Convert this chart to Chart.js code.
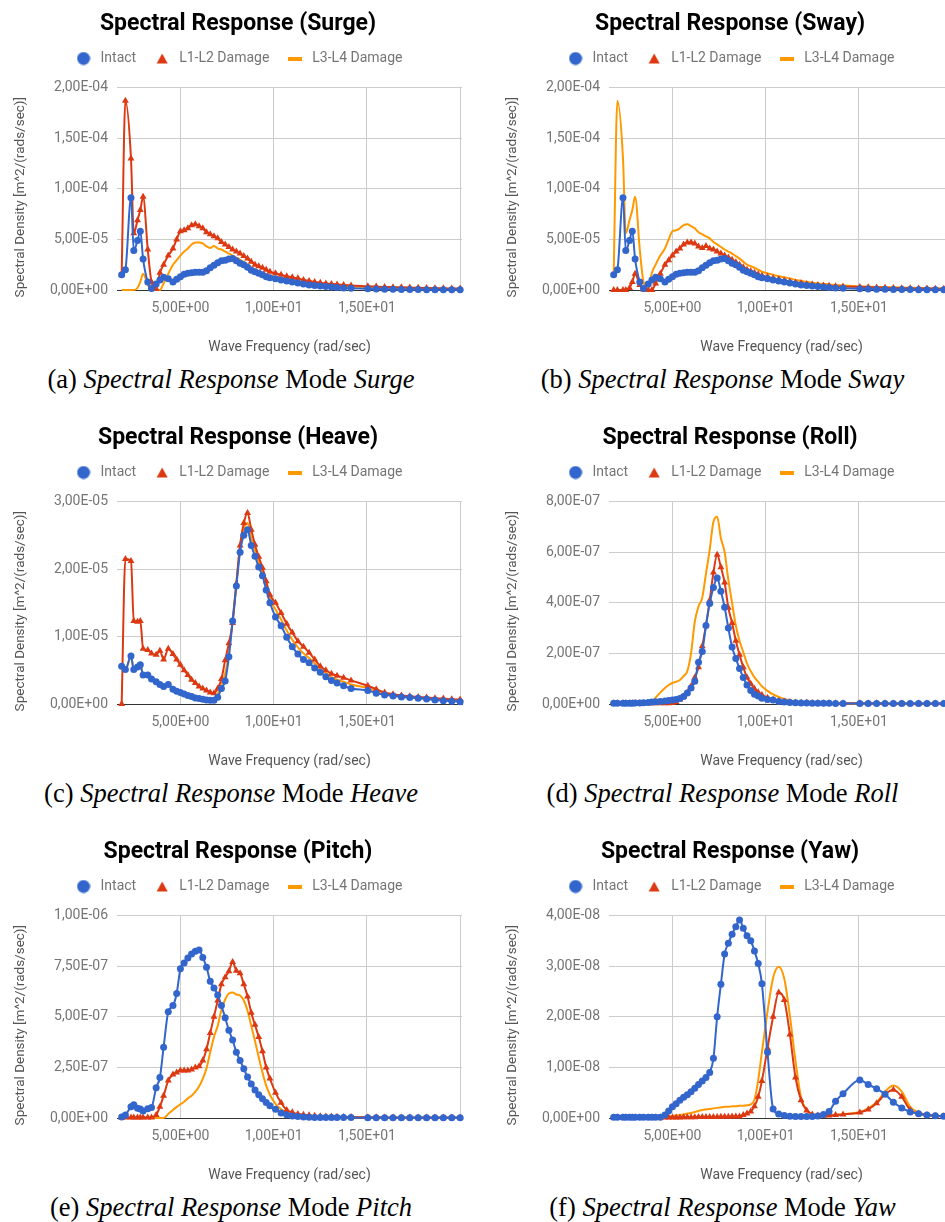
<!DOCTYPE html>
<html>
<head>
<meta charset="utf-8">
<script src="https://cdn.jsdelivr.net/npm/chart.js@4/dist/chart.umd.min.js"></script>
<style>
  html, body { margin: 0; padding: 0; background: #fff; }
  body { width: 945px; height: 1222px; position: relative; overflow: hidden; }
  canvas { position: absolute; }
  .cap { position: absolute; font-family: "Liberation Serif", "Times New Roman", serif; font-size: 26.5px;
         line-height: 32px; text-align: center; color: #000; white-space: nowrap; }
</style>
</head>
<body>
<canvas id="surge" width="476" height="365" style="left:0;top:-4px"></canvas>
<canvas id="sway" width="476" height="365" style="left:492px;top:-4px"></canvas>
<canvas id="heave" width="476" height="365" style="left:0;top:410px"></canvas>
<canvas id="roll" width="476" height="365" style="left:492px;top:410px"></canvas>
<canvas id="pitch" width="476" height="365" style="left:0;top:824px"></canvas>
<canvas id="yaw" width="476" height="365" style="left:492px;top:824px"></canvas>

<div class="cap" style="left:0;width:462px;top:363px">(a) <i>Spectral Response</i> Mode <i>Surge</i></div>
<div class="cap" style="left:491px;width:463px;top:363px">(b) <i>Spectral Response</i> Mode <i>Sway</i></div>
<div class="cap" style="left:0;width:462px;top:777px">(c) <i>Spectral Response</i> Mode <i>Heave</i></div>
<div class="cap" style="left:491px;width:463px;top:777px">(d) <i>Spectral Response</i> Mode <i>Roll</i></div>
<div class="cap" style="left:0;width:462px;top:1191px">(e) <i>Spectral Response</i> Mode <i>Pitch</i></div>
<div class="cap" style="left:491px;width:463px;top:1191px">(f) <i>Spectral Response</i> Mode <i>Yaw</i></div>

<script>
// wave frequency (rad/sec), shared by all six plots
const freq = [1.85, 2.05, 2.35, 2.5, 2.7, 2.85, 3.0, 3.25, 3.45, 3.7, 3.9, 4.1, 4.35, 4.6, 4.8,
  5.0, 5.2, 5.4, 5.6, 5.8, 6.0, 6.2, 6.4, 6.6, 6.8, 7.0, 7.2, 7.4, 7.6, 7.8, 8.0, 8.2, 8.4, 8.6, 8.8, 9.0, 9.2, 9.4, 9.6, 9.8,
  10.1, 10.4, 10.7, 11.0, 11.3, 11.6, 11.9, 12.2, 12.5, 12.8, 13.1, 13.4, 13.75, 14.15,
  15.05, 15.5, 15.95, 16.4, 16.85, 17.3, 17.75, 18.2, 18.65, 19.1, 19.55, 20.0];

// Surge, values x 1e-5
const surgeIntact = [1.5, 2.0, 9.1, 3.9, 4.9, 5.8, 3.05, 0.8, 0.15, 0.6, 1.0, 1.25, 1.1, 0.8, 1.05,
  1.3, 1.55, 1.65, 1.7, 1.75, 1.75, 1.75, 1.9, 2.2, 2.45, 2.7, 2.9, 2.95, 3.05, 3.1, 2.9, 2.65, 2.5, 2.25, 1.95, 1.8, 1.65, 1.5, 1.3, 1.2,
  1.1, 1.0, 0.9, 0.8, 0.7, 0.6, 0.5, 0.45, 0.4, 0.35, 0.3, 0.25, 0.2, 0.17,
  0.12, 0.1, 0.08, 0.07, 0.06, 0.05, 0.04, 0.035, 0.03, 0.025, 0.02, 0.02];
const surgeL12 = [1.5, 18.7, 13.0, 5.6, 6.9, 7.9, 9.2, 4.0, 0.8, 0.1, 1.7, 2.5, 3.4, 4.1, 5.0,
  5.8, 5.9, 6.1, 6.4, 6.5, 6.3, 6.1, 5.7, 5.5, 5.3, 5.1, 4.75, 4.5, 4.25, 4.0, 3.8, 3.6, 3.35, 3.1, 2.8, 2.5, 2.35, 2.2, 2.0, 1.8,
  1.65, 1.5, 1.35, 1.25, 1.15, 1.0, 0.9, 0.8, 0.72, 0.65, 0.6, 0.55, 0.5, 0.45,
  0.38, 0.34, 0.3, 0.28, 0.26, 0.24, 0.22, 0.2, 0.18, 0.17, 0.15, 0.14];
const surgeL34 = [0, 0, 0, 0, 0.2, 0.8, 1.6, 0.5, 0.05, 0, 0, 0.65, 1.6, 2.5, 2.95,
  3.4, 3.8, 4.1, 4.5, 4.7, 4.7, 4.6, 4.3, 4.15, 4.35, 4.1, 4.0, 3.8, 3.6, 3.4, 3.2, 3.0, 2.75, 2.5, 2.25, 2.0, 1.85, 1.7, 1.55, 1.4,
  1.3, 1.15, 1.05, 0.95, 0.85, 0.75, 0.68, 0.6, 0.55, 0.5, 0.45, 0.42, 0.38, 0.35,
  0.3, 0.27, 0.25, 0.22, 0.2, 0.18, 0.17, 0.15, 0.14, 0.13, 0.12, 0.11];

// Sway reads the same as surge with the two damage cases swapped
const swayIntact = surgeIntact;
const swayL12 = surgeL34;
const swayL34 = surgeL12;

// Heave, values x 1e-6
const heaveIntact = [5.6, 5.1, 7.1, 5.1, 5.5, 5.8, 4.3, 4.3, 3.7, 3.3, 2.9, 2.6, 2.9, 2.2, 1.9,
  1.7, 1.5, 1.25, 1.1, 0.9, 0.8, 0.7, 0.6, 0.55, 0.55, 1.0, 2.3, 3.4, 7.0, 12.3, 17.5, 22.5, 25.0, 25.8, 23.5, 21.9, 20.3, 19.0, 16.9, 15.0,
  12.9, 11.6, 9.9, 8.5, 7.4, 6.6, 6.1, 5.35, 4.7, 4.05, 3.5, 3.1, 2.7, 2.3,
  2.0, 1.6, 1.35, 1.2, 1.05, 0.95, 0.85, 0.75, 0.6, 0.5, 0.4, 0.35];
const heaveL12 = [0, 21.5, 21.2, 12.3, 12.2, 12.3, 8.2, 8.0, 7.5, 7.3, 7.9, 6.6, 8.2, 7.4, 6.6,
  5.8, 5.0, 4.3, 3.6, 3.1, 2.6, 2.3, 2.0, 1.7, 1.6, 2.3, 3.7, 6.5, 9.0, 12.0, 17.8, 23.5, 26.8, 28.3, 25.8, 23.6, 21.8, 20.2, 18.2, 16.2,
  15.0, 13.5, 11.9, 10.6, 9.3, 8.5, 7.6, 6.6, 5.6, 5.0, 4.5, 4.2, 3.9, 3.5,
  2.7, 2.2, 1.7, 1.45, 1.25, 1.15, 1.05, 0.95, 0.85, 0.8, 0.7, 0.65];
const heaveL34 = [5.5, 5.0, 7.0, 5.2, 5.5, 5.7, 4.4, 4.3, 3.8, 3.4, 3.0, 2.7, 2.9, 2.3, 2.0,
  1.8, 1.55, 1.3, 1.15, 0.95, 0.85, 0.75, 0.65, 0.6, 0.8, 1.5, 2.8, 4.5, 7.5, 12.5, 18.0, 23.5, 26.0, 26.8, 24.5, 22.8, 21.0, 19.5, 17.6, 15.6,
  14.0, 12.5, 10.9, 9.5, 8.4, 7.5, 6.8, 6.0, 5.2, 4.6, 4.0, 3.6, 3.3, 2.9,
  2.35, 1.9, 1.5, 1.3, 1.15, 1.05, 0.95, 0.85, 0.75, 0.68, 0.6, 0.55];

// Roll, values x 1e-8
const rollIntact = [0.3, 0.3, 0.3, 0.3, 0.3, 0.3, 0.4, 0.4, 0.5, 0.6, 0.8, 0.9, 1.0, 1.2, 1.4,
  1.6, 1.8, 2.2, 3.0, 4.3, 6.3, 9.0, 16.5, 20.7, 31.0, 39.7, 46.0, 49.8, 44.5, 38.2, 30.0, 22.5, 18.0, 14.0, 10.5, 7.5, 5.3, 3.9, 3.2, 2.3,
  1.8, 1.6, 1.0, 0.8, 0.6, 0.5, 0.4, 0.35, 0.3, 0.3, 0.25, 0.25, 0.2, 0.2,
  0.2, 0.2, 0.2, 0.2, 0.2, 0.2, 0.2, 0.2, 0.15, 0.15, 0.15, 0.15];
const rollL12 = [0.3, 0.3, 0.3, 0.3, 0.3, 0.3, 0.3, 0.3, 0.3, 0.3, 0.3, 0.3, 0.3, 0.3, 0.3,
  0.4, 0.8, 1.8, 3.0, 4.5, 7.0, 10.5, 14.5, 22.8, 31.0, 41.0, 52.0, 59.0, 54.0, 48.0, 38.0, 32.0, 25.0, 19.5, 14.5, 10.5, 8.0, 6.0, 4.6, 3.6,
  2.5, 1.8, 1.3, 1.0, 0.8, 0.6, 0.5, 0.45, 0.4, 0.35, 0.3, 0.3, 0.3, 0.3,
  0.25, 0.25, 0.25, 0.25, 0.2, 0.2, 0.2, 0.2, 0.2, 0.2, 0.2, 0.2];
const rollL34 = [0, 0, 0, 0, 0, 0, 0, 0, 0, 0, 0.3, 2.5, 4.5, 6.3, 7.5,
  8.3, 8.8, 9.5, 11.0, 13.0, 20.0, 32.5, 38.5, 42.0, 51.5, 61.0, 72.0, 74.0, 65.5, 60.0, 49.0, 40.0, 31.0, 25.0, 20.5, 16.0, 13.0, 10.5, 8.8, 7.0,
  5.2, 3.8, 2.8, 2.0, 1.5, 1.0, 0.7, 0.5, 0.35, 0.25, 0.2, 0.2, 0.15, 0.15,
  0.1, 0.1, 0.1, 0.1, 0.1, 0.1, 0.1, 0.1, 0.1, 0.1, 0.1, 0.1];

// Pitch, values x 1e-8
const pitchIntact = [0.5, 1.5, 5.5, 6.5, 4.8, 4.5, 3.5, 4.6, 5.2, 15.0, 20.0, 35.0, 52.5, 55.5, 61.5,
  73.7, 76.5, 79.0, 81.0, 82.3, 83.0, 79.3, 74.5, 67.5, 64.2, 60.8, 55.5, 49.5, 43.3, 38.5, 32.5, 28.4, 24.3, 20.2, 16.8, 13.8, 11.5, 9.5, 7.6, 6.0,
  4.3, 2.5, 1.6, 1.0, 0.7, 0.5, 0.4, 0.3, 0.25, 0.2, 0.2, 0.2, 0.2, 0.2,
  0.15, 0.15, 0.15, 0.15, 0.1, 0.1, 0.1, 0.1, 0.1, 0.1, 0.1, 0.1];
const pitchL12 = [0.3, 0.3, 0.3, 0.3, 0.3, 0.3, 0.3, 0.3, 0.3, 1.5, 5.5, 11.0, 18.5, 21.5, 22.5,
  23.5, 23.5, 23.5, 24.0, 25.0, 25.5, 28.4, 34.0, 42.0, 50.0, 58.0, 66.0, 69.5, 72.5, 77.0, 72.7, 71.5, 66.0, 60.0, 52.0, 46.0, 40.0, 33.0, 25.0, 19.5,
  12.5, 7.5, 4.0, 2.8, 2.0, 1.6, 1.3, 1.1, 0.9, 0.8, 0.7, 0.6, 0.5, 0.45,
  0.4, 0.35, 0.3, 0.3, 0.3, 0.25, 0.25, 0.2, 0.2, 0.2, 0.2, 0.2];
const pitchL34 = [0, 0, 0, 0, 0, 0, 0, 0, 0, 0, 0, 0, 2.0, 4.0, 5.5,
  6.8, 8.0, 9.7, 11.0, 13.0, 15.5, 19.5, 24.5, 32.5, 40.0, 45.5, 53.5, 58.5, 61.5, 62.0, 61.0, 60.5, 58.0, 53.0, 45.5, 38.0, 30.0, 22.5, 16.0, 11.5,
  7.0, 4.3, 2.5, 1.5, 1.0, 0.7, 0.5, 0.4, 0.3, 0.3, 0.25, 0.25, 0.2, 0.2,
  0.2, 0.2, 0.15, 0.15, 0.15, 0.1, 0.1, 0.1, 0.1, 0.1, 0.1, 0.1];

// Yaw, values x 1e-9
const yawIntact = [0.15, 0.15, 0.15, 0.15, 0.15, 0.15, 0.15, 0.15, 0.15, 0.15, 0.15, 0.15, 0.15, 0.6, 1.4,
  2.2, 2.8, 3.5, 4.1, 4.6, 5.2, 5.9, 6.6, 7.3, 8.0, 9.0, 11.8, 20.0, 26.4, 32.4, 34.5, 36.3, 37.8, 39.1, 37.5, 36.0, 35.0, 33.0, 30.5, 26.5,
  13.0, 1.8, 0.8, 0.5, 0.35, 0.3, 0.3, 0.3, 0.3, 0.4, 0.7, 1.3, 3.3, 4.8,
  7.5, 6.6, 5.8, 4.7, 3.1, 2.0, 1.2, 0.85, 0.6, 0.45, 0.35, 0.3];
const yawL12 = [0.1, 0.1, 0.1, 0.1, 0.1, 0.1, 0.1, 0.1, 0.1, 0.1, 0.1, 0.1, 0.1, 0.1, 0.1,
  0.1, 0.1, 0.1, 0.15, 0.15, 0.15, 0.15, 0.2, 0.2, 0.2, 0.2, 0.2, 0.2, 0.25, 0.25, 0.25, 0.3, 0.3, 0.3, 0.6, 0.9, 1.3, 2.3, 4.2, 7.3,
  13.8, 20.0, 24.8, 23.3, 16.5, 8.0, 3.5, 1.5, 0.7, 0.5, 0.5, 0.5, 0.6, 0.7,
  1.1, 1.7, 2.9, 4.7, 5.6, 4.2, 1.6, 0.9, 0.6, 0.4, 0.35, 0.3];
const yawL34 = [0.1, 0.1, 0.1, 0.1, 0.1, 0.1, 0.1, 0.1, 0.1, 0.1, 0.1, 0.1, 0.1, 0.2, 0.3,
  0.4, 0.5, 0.6, 0.7, 0.9, 1.0, 1.2, 1.4, 1.6, 1.7, 1.8, 1.9, 2.0, 2.1, 2.2, 2.2, 2.3, 2.3, 2.4, 2.4, 2.5, 2.7, 3.6, 7.5, 13.0,
  21.0, 27.7, 29.9, 27.5, 20.2, 11.3, 4.0, 1.6, 0.8, 0.65, 0.6, 0.6, 0.65, 0.75,
  1.2, 1.9, 3.1, 5.2, 6.4, 5.2, 2.2, 1.1, 0.7, 0.5, 0.4, 0.35];

const seriesNames = ['Intact', 'L1-L2 Damage', 'L3-L4 Damage'];
const seriesColors = ['#3366CC', '#DC3912', '#FF9900'];
const xTickValues = [5, 10, 15, 20];
const xTickLabels = ['5,00E+00', '1,00E+01', '1,50E+01', ''];

Chart.defaults.font.family = 'Roboto';

// 2.5e-5 -> "2,50E-05"
function sci(v) {
  if (Math.abs(v) < 1e-20) return '0,00E+00';
  const parts = v.toExponential(2).split('e');
  const e = parseInt(parts[1], 10);
  return parts[0].replace('.', ',') + 'E' + (e < 0 ? '-' : '+') + String(Math.abs(e)).padStart(2, '0');
}

function legendIcon(kind, color) {
  const c = document.createElement('canvas');
  const g = c.getContext('2d');
  if (kind === 'circle') {
    c.width = 14; c.height = 14;
    g.fillStyle = color;
    g.beginPath(); g.arc(7, 7, 6.5, 0, Math.PI * 2); g.fill();
  } else if (kind === 'triangle') {
    c.width = 12; c.height = 11;
    g.fillStyle = color;
    g.beginPath(); g.moveTo(6, 0.5); g.lineTo(11.5, 10.5); g.lineTo(0.5, 10.5); g.closePath(); g.fill();
  } else {
    c.width = 14; c.height = 4;
    g.fillStyle = color;
    g.fillRect(0, 0, 14, 4);
  }
  return c;
}
const legendIcons = [legendIcon('circle', seriesColors[0]), legendIcon('triangle', seriesColors[1]), legendIcon('dash', seriesColors[2])];

function makeChart(id, title, series, unit, yMax, yStep) {
  new Chart(document.getElementById(id), {
    type: 'line',
    data: {
      datasets: series.map((vals, i) => ({
        label: seriesNames[i],
        data: freq.map((f, k) => ({ x: f, y: vals[k] })),
        borderColor: seriesColors[i],
        backgroundColor: seriesColors[i],
        borderWidth: 2,
        tension: 0.4,
        cubicInterpolationMode: 'monotone',
        pointStyle: i === 0 ? 'circle' : 'triangle',
        pointRadius: i === 2 ? 0 : (i === 0 ? 3.5 : 4),
        pointBorderWidth: 0,
        clip: 6
      }))
    },
    options: {
      responsive: false,
      animation: false,
      events: [],
      plugins: {
        title: {
          display: true, text: title, color: '#000',
          font: { size: 23, weight: 'bold', lineHeight: 1.0 },
          padding: { top: 16.5, bottom: 0 }
        },
        // empty spacer between legend and plot
        subtitle: { display: true, text: '', weight: 100, font: { size: 1, lineHeight: 1 }, padding: { top: 0, bottom: 11 } },
        legend: {
          labels: {
            usePointStyle: true, pointStyleWidth: 20, padding: 16,
            font: { size: 14 },
            generateLabels: chart => chart.data.datasets.map((ds, i) => ({
              text: ds.label, pointStyle: legendIcons[i], fillStyle: ds.borderColor,
              strokeStyle: ds.borderColor, lineWidth: 0, fontColor: '#757575', hidden: false, datasetIndex: i
            }))
          }
        },
        tooltip: { enabled: false }
      },
      scales: {
        x: {
          type: 'linear', min: 1.6, max: 20.1,
          afterBuildTicks: s => { s.ticks = xTickValues.map(v => ({ value: v })); },
          afterFit: s => { s.height = 71; },
          ticks: {
            autoSkip: false, maxRotation: 0, padding: 10, color: '#757575', font: { size: 14 },
            callback: (v, i) => xTickLabels[i]
          },
          grid: { color: '#cccccc', drawTicks: false },
          border: { color: '#333333' },
          title: { display: true, text: 'Wave Frequency (rad/sec)', color: '#555', font: { size: 14 }, padding: { top: 0, bottom: 5 } }
        },
        y: {
          min: 0, max: yMax,
          afterFit: s => { s.width = 117; },
          ticks: { stepSize: yStep, padding: 9, color: '#757575', font: { size: 14 }, callback: v => sci(v * unit) },
          grid: { color: c => (c.tick && c.tick.value === 0 ? '#333333' : '#cccccc'), drawTicks: false },
          border: { display: false },
          title: { display: true, text: 'Spectral Density [m^2/(rads/sec)]     ', color: '#555', font: { size: 13.5 }, padding: { top: 13, bottom: 0 } }
        },
        // empty right-hand gutter so title and legend stay centred on the canvas
        y2: {
          position: 'right', display: true,
          afterFit: s => { s.width = 14; },
          grid: { display: false }, ticks: { display: false }, border: { display: false }
        }
      }
    }
  });
}

makeChart('surge', 'Spectral Response (Surge)', [surgeIntact, surgeL12, surgeL34], 1e-5, 20, 5);
makeChart('sway', 'Spectral Response (Sway)', [swayIntact, swayL12, swayL34], 1e-5, 20, 5);
makeChart('heave', 'Spectral Response (Heave)', [heaveIntact, heaveL12, heaveL34], 1e-6, 30, 10);
makeChart('roll', 'Spectral Response (Roll)', [rollIntact, rollL12, rollL34], 1e-8, 80, 20);
makeChart('pitch', 'Spectral Response (Pitch)', [pitchIntact, pitchL12, pitchL34], 1e-8, 100, 25);
makeChart('yaw', 'Spectral Response (Yaw)', [yawIntact, yawL12, yawL34], 1e-9, 40, 10);
</script>
</body>
</html>
